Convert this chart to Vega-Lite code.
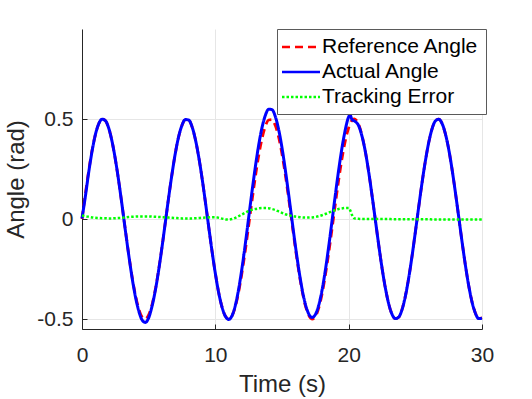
{
  "$schema": "https://vega.github.io/schema/vega-lite/v6.json",
  "width": 400,
  "height": 300,
  "autosize": "none",
  "padding": {"left": 82, "top": 29, "right": 50, "bottom": 70},
  "background": "white",
  "config": {"view": {"stroke": null}, "font": "Liberation Sans"},
  "data": {"values": [
    {"t":0,"r":0,"a":0.003,"e":0.018},
    {"t":0.25,"r":0.124,"a":0.112,"e":0.014},
    {"t":0.5,"r":0.240,"a":0.232,"e":0.011},
    {"t":0.75,"r":0.341,"a":0.337,"e":0.008},
    {"t":1.0,"r":0.421,"a":0.421,"e":0.006},
    {"t":1.25,"r":0.475,"a":0.475,"e":0.005},
    {"t":1.5,"r":0.499,"a":0.499,"e":0.004},
    {"t":1.75,"r":0.492,"a":0.492,"e":0.004},
    {"t":2.0,"r":0.455,"a":0.455,"e":0.003},
    {"t":2.25,"r":0.389,"a":0.389,"e":0.003},
    {"t":2.5,"r":0.299,"a":0.299,"e":0.004},
    {"t":2.75,"r":0.191,"a":0.191,"e":0.005},
    {"t":3.0,"r":0.071,"a":0.071,"e":0.006},
    {"t":3.25,"r":-0.054,"a":-0.056,"e":0.008},
    {"t":3.5,"r":-0.175,"a":-0.178,"e":0.010},
    {"t":3.75,"r":-0.286,"a":-0.291,"e":0.011},
    {"t":4.0,"r":-0.378,"a":-0.386,"e":0.012},
    {"t":4.25,"r":-0.448,"a":-0.458,"e":0.013},
    {"t":4.5,"r":-0.489,"a":-0.504,"e":0.013},
    {"t":4.75,"r":-0.500,"a":-0.517,"e":0.013},
    {"t":5.0,"r":-0.479,"a":-0.494,"e":0.013},
    {"t":5.25,"r":-0.429,"a":-0.437,"e":0.012},
    {"t":5.5,"r":-0.353,"a":-0.357,"e":0.011},
    {"t":5.75,"r":-0.254,"a":-0.256,"e":0.010},
    {"t":6.0,"r":-0.140,"a":-0.141,"e":0.009},
    {"t":6.25,"r":-0.017,"a":-0.017,"e":0.008},
    {"t":6.5,"r":0.108,"a":0.108,"e":0.007},
    {"t":6.75,"r":0.225,"a":0.225,"e":0.006},
    {"t":7.0,"r":0.329,"a":0.329,"e":0.005},
    {"t":7.25,"r":0.412,"a":0.412,"e":0.004},
    {"t":7.5,"r":0.469,"a":0.469,"e":0.003},
    {"t":7.75,"r":0.497,"a":0.497,"e":0.003},
    {"t":8.0,"r":0.495,"a":0.495,"e":0.003},
    {"t":8.25,"r":0.462,"a":0.462,"e":0.003},
    {"t":8.5,"r":0.399,"a":0.399,"e":0.004},
    {"t":8.75,"r":0.312,"a":0.312,"e":0.005},
    {"t":9.0,"r":0.206,"a":0.206,"e":0.006},
    {"t":9.25,"r":0.087,"a":0.087,"e":0.007},
    {"t":9.5,"r":-0.038,"a":-0.038,"e":0.008},
    {"t":9.75,"r":-0.160,"a":-0.160,"e":0.009},
    {"t":10.0,"r":-0.272,"a":-0.272,"e":0.009},
    {"t":10.25,"r":-0.368,"a":-0.368,"e":0.006},
    {"t":10.5,"r":-0.440,"a":-0.440,"e":0.002},
    {"t":10.75,"r":-0.485,"a":-0.486,"e":-0.002},
    {"t":11.0,"r":-0.500,"a":-0.502,"e":-0.003},
    {"t":11.25,"r":-0.484,"a":-0.484,"e":0.000},
    {"t":11.5,"r":-0.438,"a":-0.432,"e":0.006},
    {"t":11.75,"r":-0.364,"a":-0.350,"e":0.014},
    {"t":12.0,"r":-0.268,"a":-0.245,"e":0.023},
    {"t":12.25,"r":-0.156,"a":-0.124,"e":0.032},
    {"t":12.5,"r":-0.033,"a":0.007,"e":0.040},
    {"t":12.75,"r":0.091,"a":0.137,"e":0.046},
    {"t":13.0,"r":0.210,"a":0.260,"e":0.050},
    {"t":13.25,"r":0.316,"a":0.369,"e":0.053},
    {"t":13.5,"r":0.402,"a":0.457,"e":0.055},
    {"t":13.75,"r":0.463,"a":0.518,"e":0.055},
    {"t":14.0,"r":0.495,"a":0.549,"e":0.054},
    {"t":14.25,"r":0.497,"a":0.547,"e":0.050},
    {"t":14.5,"r":0.467,"a":0.512,"e":0.045},
    {"t":14.75,"r":0.409,"a":0.447,"e":0.038},
    {"t":15.0,"r":0.325,"a":0.356,"e":0.031},
    {"t":15.25,"r":0.221,"a":0.245,"e":0.024},
    {"t":15.5,"r":0.103,"a":0.122,"e":0.019},
    {"t":15.75,"r":-0.021,"a":-0.006,"e":0.015},
    {"t":16.0,"r":-0.144,"a":-0.132,"e":0.012},
    {"t":16.25,"r":-0.258,"a":-0.248,"e":0.010},
    {"t":16.5,"r":-0.356,"a":-0.348,"e":0.008},
    {"t":16.75,"r":-0.432,"a":-0.425,"e":0.007},
    {"t":17.0,"r":-0.481,"a":-0.474,"e":0.007},
    {"t":17.25,"r":-0.500,"a":-0.492,"e":0.008},
    {"t":17.5,"r":-0.488,"a":-0.478,"e":0.010},
    {"t":17.75,"r":-0.446,"a":-0.432,"e":0.014},
    {"t":18.0,"r":-0.376,"a":-0.357,"e":0.019},
    {"t":18.25,"r":-0.282,"a":-0.257,"e":0.025},
    {"t":18.5,"r":-0.171,"a":-0.139,"e":0.032},
    {"t":18.75,"r":-0.050,"a":-0.011,"e":0.039},
    {"t":19.0,"r":0.075,"a":0.120,"e":0.045},
    {"t":19.25,"r":0.195,"a":0.245,"e":0.050},
    {"t":19.5,"r":0.303,"a":0.356,"e":0.053},
    {"t":19.75,"r":0.392,"a":0.447,"e":0.055},
    {"t":20.0,"r":0.456,"a":0.511,"e":0.055},
    {"t":20.1,"r":0.474,"a":0.520,"e":0.046},
    {"t":20.25,"r":0.493,"a":0.497,"e":0.020},
    {"t":20.4,"r":0.500,"a":0.491,"e":0.004},
    {"t":20.5,"r":0.498,"a":0.487,"e":0.002},
    {"t":20.75,"r":0.473,"a":0.466,"e":0.001},
    {"t":21.0,"r":0.418,"a":0.414,"e":0.000},
    {"t":21.25,"r":0.337,"a":0.337,"e":0.000},
    {"t":21.5,"r":0.236,"a":0.236,"e":0.000},
    {"t":21.75,"r":0.119,"a":0.119,"e":0.000},
    {"t":22.0,"r":-0.004,"a":-0.004,"e":0.000},
    {"t":22.25,"r":-0.128,"a":-0.128,"e":0.000},
    {"t":22.5,"r":-0.244,"a":-0.244,"e":0.000},
    {"t":22.75,"r":-0.344,"a":-0.344,"e":0.000},
    {"t":23.0,"r":-0.423,"a":-0.423,"e":0.000},
    {"t":23.25,"r":-0.476,"a":-0.476,"e":-0.001},
    {"t":23.5,"r":-0.498,"a":-0.498,"e":-0.001},
    {"t":23.75,"r":-0.491,"a":-0.491,"e":-0.001},
    {"t":24.0,"r":-0.453,"a":-0.453,"e":-0.001},
    {"t":24.25,"r":-0.387,"a":-0.387,"e":-0.001},
    {"t":24.5,"r":-0.296,"a":-0.296,"e":-0.001},
    {"t":24.75,"r":-0.187,"a":-0.187,"e":-0.001},
    {"t":25.0,"r":-0.066,"a":-0.066,"e":-0.001},
    {"t":25.25,"r":0.059,"a":0.059,"e":-0.001},
    {"t":25.5,"r":0.180,"a":0.180,"e":-0.001},
    {"t":25.75,"r":0.289,"a":0.289,"e":-0.001},
    {"t":26.0,"r":0.381,"a":0.381,"e":-0.001},
    {"t":26.25,"r":0.450,"a":0.450,"e":-0.002},
    {"t":26.5,"r":0.490,"a":0.490,"e":-0.002},
    {"t":26.75,"r":0.499,"a":0.499,"e":-0.002},
    {"t":27.0,"r":0.478,"a":0.478,"e":-0.002},
    {"t":27.25,"r":0.427,"a":0.427,"e":-0.002},
    {"t":27.5,"r":0.350,"a":0.350,"e":-0.002},
    {"t":27.75,"r":0.250,"a":0.250,"e":-0.002},
    {"t":28.0,"r":0.135,"a":0.135,"e":-0.002},
    {"t":28.25,"r":0.012,"a":0.012,"e":-0.002},
    {"t":28.5,"r":-0.112,"a":-0.112,"e":-0.002},
    {"t":28.75,"r":-0.229,"a":-0.229,"e":-0.002},
    {"t":29.0,"r":-0.332,"a":-0.332,"e":-0.002},
    {"t":29.25,"r":-0.414,"a":-0.414,"e":-0.002},
    {"t":29.5,"r":-0.470,"a":-0.470,"e":-0.002},
    {"t":29.75,"r":-0.498,"a":-0.498,"e":-0.002},
    {"t":30.0,"r":-0.494,"a":-0.496,"e":-0.002}
  ]},
  "encoding": {
    "x": {
      "field": "t", "type": "quantitative", "title": "Time (s)",
      "scale": {"domain": [0, 30], "nice": false, "zero": false},
      "axis": {
        "values": [0, 10, 20, 30], "grid": true, "gridColor": "#e6e6e6",
        "domainColor": "#262626", "tickColor": "#262626", "tickSize": -5,
        "labelFontSize": 21, "titleFontSize": 24, "labelColor": "#262626", "titleColor": "#262626",
        "titleFontWeight": "normal", "labelPadding": 20, "titlePadding": 7, "labelFlush": false
      }
    }
  },
  "layer": [
    {
      "mark": {"type": "line", "strokeWidth": 2.8, "interpolate": "monotone"},
      "encoding": {
        "y": {
          "field": "r", "type": "quantitative", "title": "Angle (rad)",
          "scale": {"domain": [-0.55, 0.95], "nice": false, "zero": false},
          "axis": {
            "values": [-0.5, 0, 0.5], "labelExpr": "'' + datum.value", "grid": true, "gridColor": "#e6e6e6",
            "domainColor": "#262626", "tickColor": "#262626", "tickSize": -5,
            "labelFontSize": 21, "titleFontSize": 24, "labelColor": "#262626", "titleColor": "#262626",
            "titleFontWeight": "normal", "labelPadding": 14, "titlePadding": 8, "labelFlush": false
          }
        },
        "color": {
          "datum": "Reference Angle", "type": "nominal",
          "scale": {"domain": ["Reference Angle", "Actual Angle", "Tracking Error"], "range": ["#ff0000", "#0000ff", "#00ff00"]},
          "legend": {
            "title": null, "orient": "none", "legendX": 195, "legendY": 0,
            "symbolType": "M-2,0H2", "symbolSize": 361, "symbolStrokeWidth": 2.5, "symbolOffset": 6,
            "labelFontSize": 21, "labelFont": "Liberation Sans", "labelColor": "black", "labelOffset": 10, "labelLimit": 300,
            "strokeColor": "#5a5a5a", "fillColor": "white", "padding": 7, "rowPadding": 4
          }
        },
        "strokeDash": {
          "datum": "Reference Angle", "type": "nominal",
          "scale": {"domain": ["Reference Angle", "Actual Angle", "Tracking Error"], "range": [[8, 5], [1, 0], [2.5, 2]]}
        }
      }
    },
    {
      "mark": {"type": "line", "strokeWidth": 3, "interpolate": "monotone"},
      "encoding": {
        "y": {"field": "a", "type": "quantitative", "title": "Angle (rad)"},
        "color": {"datum": "Actual Angle", "type": "nominal"},
        "strokeDash": {"datum": "Actual Angle", "type": "nominal"}
      }
    },
    {
      "mark": {"type": "line", "strokeWidth": 2.5, "interpolate": "monotone"},
      "encoding": {
        "y": {"field": "e", "type": "quantitative", "title": "Angle (rad)"},
        "color": {"datum": "Tracking Error", "type": "nominal"},
        "strokeDash": {"datum": "Tracking Error", "type": "nominal"}
      }
    }
  ]
}
